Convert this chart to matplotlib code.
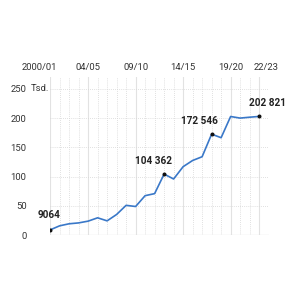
import matplotlib
matplotlib.use("Agg")
import matplotlib.pyplot as plt
from matplotlib.transforms import ScaledTranslation, blended_transform_factory

plt.rcParams['font.family'] = ['Roboto', 'DejaVu Sans']

# seasons 2000/01 .. 22/23, values in thousands
seasons = list(range(23))
values = [9.064, 16, 19.5, 21, 24, 29.7, 24.5, 35.4, 51, 49, 67.5, 71,
          104.362, 96, 117, 127.6, 134, 172.546, 166.5, 202.7, 200, 201.5, 202.821]
tick_pos = [0, 4, 9, 14, 19, 22]
tick_labels = ['2000/01', '04/05', '09/10', '14/15', '19/20', '22/23']
y_ticks = [0, 50, 100, 150, 200, 250]
marked = [0, 12, 17, 22]
marked_labels = ['9064', '104 362', '172 546', '202 821']
label_offsets = [(-1, 10), (-10.5, 8.5), (-12.5, 8), (8, 8.5)]

fig = plt.figure(figsize=(3, 3), dpi=100)
ax = fig.add_axes([0.167, 0.216, 0.73, 0.527])

ax.plot(seasons, values, color='#3a78c8', lw=1.2, zorder=3)
ax.scatter([seasons[i] for i in marked], [values[i] for i in marked],
           s=3.5, color='#111111', zorder=4)
for i, txt, (dx, dy) in zip(marked, marked_labels, label_offsets):
    ax.annotate(txt, (seasons[i], values[i]), xytext=(dx * 0.72, dy * 0.72),
                textcoords='offset points', ha='center', va='bottom',
                fontsize=7.2, fontweight='bold', color='#222222')

ax.set_xlim(0, 23.05)
ax.set_ylim(0, 270)

# grid: dotted lines every season, solid at labelled seasons
for s in seasons:
    if s in tick_pos:
        ax.axvline(s, color='#e2e2e2', lw=0.8, zorder=1)
    else:
        ax.axvline(s, color='#d6d6d6', lw=0.6, ls=(0, (1, 1.5)), zorder=1)
for y in y_ticks:
    if y == 0:
        ax.axhline(y, color='#dddddd', lw=0.9, zorder=1)
    else:
        ax.axhline(y, color='#d6d6d6', lw=0.6, ls=(0, (1, 1.5)), zorder=1)

for sp in ax.spines.values():
    sp.set_visible(False)

ax.xaxis.tick_top()
ax.set_xticks(tick_pos)
ax.set_xticklabels(tick_labels)
ax.set_yticks(y_ticks)
ax.set_yticklabels([str(y) for y in y_ticks])
ax.tick_params(axis='x', length=0, pad=4, labelsize=6.8, labelcolor='#333333')
ax.tick_params(axis='y', length=0, pad=17, labelsize=6.8, labelcolor='#333333')

xl = ax.get_xticklabels()
xl[0].set_transform(xl[0].get_transform() + ScaledTranslation(-0.11, 0, fig.dpi_scale_trans))
xl[-1].set_transform(xl[-1].get_transform() + ScaledTranslation(0.07, 0, fig.dpi_scale_trans))

trans = blended_transform_factory(fig.transFigure, ax.transData)
ax.text(30.5 / 300, 250, 'Tsd.', transform=trans, ha='left', va='center',
        fontsize=6.8, color='#333333')

fig.savefig('out.png', dpi=100)
